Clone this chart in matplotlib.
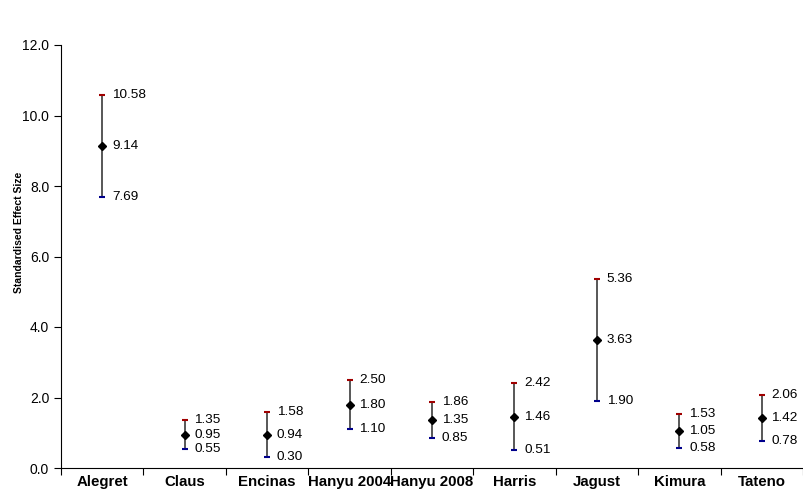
import numpy as np
import matplotlib.pyplot as plt

# study names and effect sizes (mean, upper / lower limits)
studies = ["Alegret", "Claus", "Encinas", "Hanyu 2004", "Hanyu 2008",
           "Harris", "Jagust", "Kimura", "Tateno"]
means = [9.14, 0.95, 0.94, 1.80, 1.35, 1.46, 3.63, 1.05, 1.42]
upper = [10.58, 1.35, 1.58, 2.50, 1.86, 2.42, 5.36, 1.53, 2.06]
lower = [7.69, 0.55, 0.30, 1.10, 0.85, 0.51, 1.90, 0.58, 0.78]

fig = plt.figure(figsize=(8.04, 4.97), dpi=100)
ax = fig.add_axes([61 / 804, 1 - 468 / 497, 742 / 804, (468 - 45) / 497])

x = np.arange(len(studies)) + 0.5

# whiskers
ax.vlines(x, lower, upper, color="#2a2a2a", lw=1.1)
# caps
ax.plot(x, upper, ls="none", marker="_", ms=5, mew=1.5, color="#a00000")
ax.plot(x, lower, ls="none", marker="_", ms=5, mew=1.5, color="#00008b")
# point estimates
ax.plot(x, means, ls="none", marker="D", ms=4.5, color="black")

# value labels
for xi, m, u, l in zip(x, means, upper, lower):
    for v in (u, m, l):
        ax.annotate(f"{v:.2f}", (xi, v), xytext=(7, 0), textcoords="offset points",
                    va="center", ha="left", fontsize=9.7, family="Liberation Sans")

ax.set_xlim(0, len(studies))
ax.set_ylim(0, 12)
ax.set_yticks(np.arange(0, 12.1, 2))
ax.set_yticklabels([f"{t:.1f}" for t in np.arange(0, 12.1, 2)],
                   fontsize=10, family="Liberation Sans")

# boundaries as major ticks, names on minor ticks
ax.set_xticks(np.arange(0, len(studies) + 1))
ax.set_xticklabels([])
ax.set_xticks(x, minor=True)
ax.set_xticklabels(studies, minor=True, fontsize=10.8, fontweight="bold",
                   family="Liberation Sans")
ax.tick_params(axis="x", which="minor", length=0, pad=5)
ax.tick_params(axis="x", which="major", length=5, direction="out")
ax.tick_params(axis="y", length=5, direction="out")

ax.set_ylabel("Standardised Effect Size", fontsize=7.5, fontweight="bold",
              family="Liberation Sans")
ax.yaxis.set_label_coords(-0.050, 0.558)

for s in ("top", "right"):
    ax.spines[s].set_visible(False)

fig.savefig("out.png", dpi=100)
